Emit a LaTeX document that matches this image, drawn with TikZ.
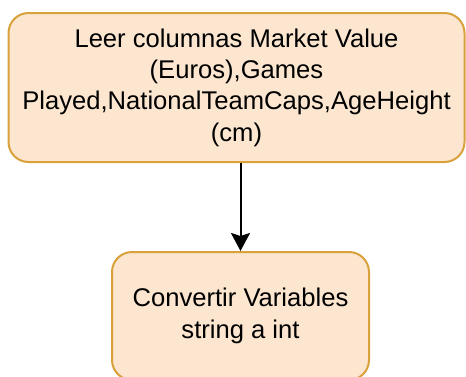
\documentclass[tikz,border=0pt]{standalone}
\usepackage{fontspec}
\setmainfont{Liberation Sans}
\usetikzlibrary{arrows.meta}
\definecolor{boxfill}{HTML}{FCE6CF}
\definecolor{boxline}{HTML}{D9A13C}
\begin{document}
\begin{tikzpicture}[x=1pt, y=-1pt,
  stepbox/.style={draw=boxline, fill=boxfill, line width=2pt, rounded corners=20pt,
    align=center, font=\fontsize{25.6}{31.3}\selectfont, inner sep=0pt}]
  % Canvas
  \useasboundingbox (0,0) rectangle (466,376);
  \clip (0,0) rectangle (466,376);

  % Boxes
  \node[stepbox, minimum width=456pt, minimum height=149pt] (leer) at (236.5, 87.5)
    {Leer columnas Market Value\\(Euros),Games\\Played,NationalTeamCaps,AgeHeight\\(cm)};
  \node[stepbox, minimum width=257pt, minimum height=128pt] (convertir) at (240.5, 316)
    {Convertir Variables\\string a int};

  % Arrow
  \draw[-{Stealth[length=18pt, width=19pt, inset=3pt]}, line width=2pt, black]
    (leer.south -| convertir.north) -- (convertir.north);
\end{tikzpicture}
\end{document}
